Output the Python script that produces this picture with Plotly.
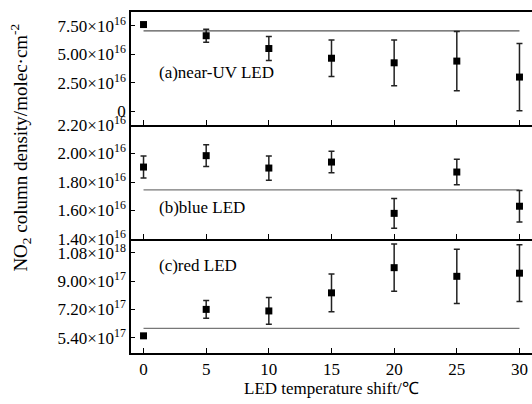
import plotly.graph_objects as go

# Data
temp_shift = [0, 5, 10, 15, 20, 25, 30]

uv_vals = [7.6e16, 6.62e16, 5.5e16, 4.65e16, 4.25e16, 4.4e16, 3.0e16]
uv_err = [0.15e16, 0.57e16, 1.05e16, 1.6e16, 2.0e16, 2.6e16, 2.95e16]
uv_ref = 7.05e16

blue_vals = [1.905e16, 1.985e16, 1.898e16, 1.94e16, 1.58e16, 1.87e16, 1.63e16]
blue_err = [0.077e16, 0.077e16, 0.085e16, 0.075e16, 0.105e16, 0.09e16, 0.11e16]
blue_ref = 1.745e16

red_vals = [5.52e17, 7.2e17, 7.1e17, 8.25e17, 9.85e17, 9.3e17, 9.5e17]
red_err = [0.1e17, 0.56e17, 0.85e17, 1.2e17, 1.5e17, 1.72e17, 1.8e17]
red_ref = 6.0e17

uv_ticks = [0, 2.5e16, 5.0e16, 7.5e16]
uv_ticktext = ["0", "2.50×10<sup>16</sup>", "5.00×10<sup>16</sup>", "7.50×10<sup>16</sup>"]
blue_ticks = [1.4e16, 1.6e16, 1.8e16, 2.0e16, 2.2e16]
blue_ticktext = ["1.40×10<sup>16</sup>", "1.60×10<sup>16</sup>", "1.80×10<sup>16</sup>",
                 "2.00×10<sup>16</sup>", "2.20×10<sup>16</sup>"]
red_ticks = [5.4e17, 7.2e17, 9.0e17, 10.8e17]
red_ticktext = ["5.40×10<sup>17</sup>", "7.20×10<sup>17</sup>", "9.00×10<sup>17</sup>",
                "1.08×10<sup>18</sup>"]
x_ticks = [0, 5, 10, 15, 20, 25, 30]

FONT = "Liberation Serif, Times New Roman, serif"

fig = go.Figure()

panels = [
    (uv_vals, uv_err, uv_ref, "x", "y", "#555555"),
    (blue_vals, blue_err, blue_ref, "x2", "y2", "#777777"),
    (red_vals, red_err, red_ref, "x3", "y3", "#777777"),
]
for vals, err, ref, xa, ya, lc in panels:
    fig.add_trace(go.Scatter(
        x=[temp_shift[0], temp_shift[-1]], y=[ref, ref], mode="lines",
        line=dict(color=lc, width=1.3), xaxis=xa, yaxis=ya, showlegend=False,
        hoverinfo="skip"))
    fig.add_trace(go.Scatter(
        x=temp_shift, y=vals, mode="markers",
        marker=dict(symbol="square", size=7, color="black"),
        error_y=dict(type="data", array=err, visible=True, color="#222222",
                     thickness=1.5, width=3),
        xaxis=xa, yaxis=ya, showlegend=False))

common_x = dict(range=[-1, 31], showline=True, linecolor="black", linewidth=1.5,
                ticks="inside", ticklen=5, tickcolor="black",
                tickvals=x_ticks, showgrid=False, zeroline=False,
                tickfont=dict(family=FONT, size=17, color="black"))
common_y = dict(showline=True, linecolor="black", linewidth=1.5, mirror=False,
                ticks="inside", ticklen=4, tickcolor="black", showgrid=False,
                zeroline=False, tickfont=dict(family=FONT, size=17, color="black"))

d1 = (353 - 237) / 347
d2 = (353 - 121) / 347

fig.update_layout(
    width=532, height=404,
    margin=dict(l=131, r=0, t=6, b=51),
    paper_bgcolor="white", plot_bgcolor="white",
    font=dict(family=FONT, size=17, color="black"),
    xaxis=dict(**common_x, anchor="y", mirror=True, showticklabels=False),
    xaxis2=dict(**common_x, anchor="y2", mirror=False, matches="x3", showticklabels=False),
    xaxis3=dict(**common_x, anchor="y3", mirror=False),
    yaxis=dict(**common_y, domain=[d2, 1], range=[-1.2e16, 8.7e16],
               tickvals=uv_ticks, ticktext=uv_ticktext),
    yaxis2=dict(**common_y, domain=[d1, d2], range=[1.4e16, 2.2e16],
                tickvals=blue_ticks, ticktext=blue_ticktext),
    yaxis3=dict(**common_y, domain=[0, d1], range=[4.43e17, 11.67e17],
                tickvals=red_ticks, ticktext=red_ticktext),
)
fig.layout.xaxis.matches = "x3"

def py(p):
    return (353 - p) / 347

fig.add_annotation(text="(a)near-UV LED", xref="paper", yref="paper",
                   x=(157 - 131) / 401, y=py(68), xanchor="left", yanchor="middle",
                   showarrow=False, font=dict(family=FONT, size=17))
fig.add_annotation(text="(b)blue LED", xref="paper", yref="paper",
                   x=(157 - 131) / 401, y=py(205), xanchor="left", yanchor="middle",
                   showarrow=False, font=dict(family=FONT, size=17))
fig.add_annotation(text="(c)red LED", xref="paper", yref="paper",
                   x=(157 - 131) / 401, y=py(264), xanchor="left", yanchor="middle",
                   showarrow=False, font=dict(family=FONT, size=17))
fig.add_annotation(text="NO<sub>2</sub> column density/molec·cm<sup>-2</sup>",
                   xref="paper", yref="paper", x=(21 - 131) / 401, y=py(144),
                   xanchor="center", yanchor="middle", textangle=-90,
                   showarrow=False, font=dict(family=FONT, size=19))
fig.add_annotation(text="LED temperature shift/℃", xref="paper", yref="paper",
                   x=(331 - 131) / 401, y=py(389), xanchor="center", yanchor="middle",
                   showarrow=False, font=dict(family=FONT, size=17))

fig.write_html("out.html")
